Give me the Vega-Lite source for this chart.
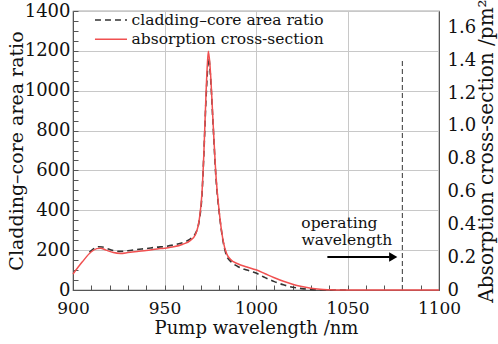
{
  "$schema": "https://vega.github.io/schema/vega-lite/v6.json",
  "width": 366,
  "height": 279,
  "autosize": {"type": "none"},
  "padding": {"left": 73, "top": 11, "right": 59, "bottom": 54},
  "background": "white",
  "config": {
    "font": "DejaVu Serif",
    "view": {"stroke": "#555555", "strokeWidth": 1.2},
    "axis": {
      "labelFont": "DejaVu Serif",
      "titleFont": "DejaVu Serif",
      "labelFontSize": 18,
      "titleFontSize": 18,
      "titleFontWeight": "normal",
      "labelColor": "#111111",
      "titleColor": "#111111",
      "domainColor": "#555555",
      "tickColor": "#555555",
      "gridColor": "#c8c8c8",
      "labelOverlap": false,
      "labelFlush": false
    }
  },
  "datasets": {
    "ratio": [
      {"w": 909, "v": 190}, {"w": 911, "v": 205}, {"w": 914, "v": 217}, {"w": 916, "v": 216},
      {"w": 918, "v": 210}, {"w": 922, "v": 198}, {"w": 926, "v": 194}, {"w": 930, "v": 197},
      {"w": 935, "v": 203}, {"w": 940, "v": 208}, {"w": 946, "v": 215}, {"w": 950, "v": 218},
      {"w": 955, "v": 226}, {"w": 960, "v": 238}, {"w": 964, "v": 255}, {"w": 967, "v": 285},
      {"w": 969, "v": 350}, {"w": 970.5, "v": 480}, {"w": 971.5, "v": 680}, {"w": 972.7, "v": 960},
      {"w": 973.5, "v": 1100}, {"w": 974.2, "v": 1165}, {"w": 975, "v": 1090}, {"w": 976.5, "v": 840},
      {"w": 978, "v": 580}, {"w": 980, "v": 380}, {"w": 982, "v": 245}, {"w": 984, "v": 170},
      {"w": 986, "v": 145}, {"w": 990, "v": 118}, {"w": 995, "v": 100}, {"w": 1000, "v": 85},
      {"w": 1005, "v": 62}, {"w": 1010, "v": 42}, {"w": 1015, "v": 26}, {"w": 1020, "v": 14},
      {"w": 1025, "v": 7}, {"w": 1030, "v": 3}, {"w": 1035, "v": 1}, {"w": 1040, "v": 0},
      {"w": 1050, "v": 0}
    ],
    "cross": [
      {"w": 900, "v": 0.097}, {"w": 905, "v": 0.170}, {"w": 910, "v": 0.233}, {"w": 913, "v": 0.252},
      {"w": 915, "v": 0.255}, {"w": 918, "v": 0.243}, {"w": 922, "v": 0.228}, {"w": 926, "v": 0.223},
      {"w": 930, "v": 0.228}, {"w": 935, "v": 0.235}, {"w": 940, "v": 0.241}, {"w": 946, "v": 0.250},
      {"w": 950, "v": 0.255}, {"w": 955, "v": 0.263}, {"w": 960, "v": 0.279}, {"w": 964, "v": 0.301},
      {"w": 967, "v": 0.340}, {"w": 969, "v": 0.430}, {"w": 970.5, "v": 0.595}, {"w": 971.5, "v": 0.830},
      {"w": 972.7, "v": 1.200}, {"w": 973.5, "v": 1.390}, {"w": 974, "v": 1.455}, {"w": 975, "v": 1.345},
      {"w": 976.5, "v": 1.030}, {"w": 978, "v": 0.715}, {"w": 980, "v": 0.467}, {"w": 982, "v": 0.303},
      {"w": 984, "v": 0.220}, {"w": 986, "v": 0.188}, {"w": 990, "v": 0.160}, {"w": 995, "v": 0.140},
      {"w": 1000, "v": 0.123}, {"w": 1005, "v": 0.099}, {"w": 1010, "v": 0.075}, {"w": 1015, "v": 0.053},
      {"w": 1020, "v": 0.035}, {"w": 1025, "v": 0.021}, {"w": 1030, "v": 0.010}, {"w": 1035, "v": 0.004},
      {"w": 1040, "v": 0.0015}, {"w": 1045, "v": 0}, {"w": 1100, "v": 0}
    ],
    "vline": [{"w": 1080, "v": 0, "v2": 1155}],
    "arrow": [{"w": 1039, "w2": 1073, "v": 166}],
    "head": [{"w": 1075, "v": 166}],
    "notes": [
      {"w": 1045.6, "v": 336, "t": "operating"},
      {"w": 1049.7, "v": 251, "t": "wavelength"}
    ],
    "legendDash": [{"w": 912, "w2": 929.5, "v": 1355}],
    "legendSolid": [{"w": 912, "w2": 929.5, "v": 1258}],
    "legendText": [
      {"w": 932, "v": 1355, "t": "cladding–core area ratio"},
      {"w": 932, "v": 1258, "t": "absorption cross-section"}
    ]
  },
  "encoding": {
    "x": {
      "field": "w",
      "type": "quantitative",
      "scale": {"domain": [900, 1100], "nice": false, "zero": false},
      "axis": {
        "title": "Pump wavelength /nm",
        "values": [900, 910, 920, 930, 940, 950, 960, 970, 980, 990, 1000, 1010, 1020, 1030, 1040, 1050, 1060, 1070, 1080, 1090, 1100],
        "labelExpr": "datum.value % 50 === 0 ? datum.label : ''",
        "format": "d",
        "labelFontSize": 17,
        "tickSize": -5,
        "labelPadding": 15,
        "titlePadding": 3,
        "gridOpacity": {"condition": {"test": "datum.value % 50 !== 0", "value": 0}, "value": 1}
      }
    }
  },
  "layer": [
    {
      "encoding": {
        "y": {
          "field": "v",
          "type": "quantitative",
          "scale": {"domain": [0, 1400], "nice": false},
          "axis": {
            "title": "Cladding–core area ratio",
            "titleFontSize": 19,
            "values": [0, 50, 100, 150, 200, 250, 300, 350, 400, 450, 500, 550, 600, 650, 700, 750, 800, 850, 900, 950, 1000, 1050, 1100, 1150, 1200, 1250, 1300, 1350, 1400],
            "labelExpr": "datum.value % 200 === 0 ? datum.label : ''",
            "format": "d",
            "tickSize": -5,
            "labelPadding": 8,
            "titlePadding": -2,
            "gridOpacity": {"condition": {"test": "datum.value % 200 !== 0", "value": 0}, "value": 1}
          }
        }
      },
      "layer": [
        {
          "data": {"name": "vline"},
          "mark": {"type": "rule", "color": "#555555", "strokeDash": [5, 3], "strokeWidth": 1.2},
          "encoding": {"y2": {"field": "v2"}}
        },
        {
          "data": {"name": "arrow"},
          "mark": {"type": "rule", "color": "#000000", "strokeWidth": 2},
          "encoding": {"x2": {"field": "w2"}}
        },
        {
          "data": {"name": "head"},
          "mark": {"type": "point", "shape": "triangle-right", "filled": true, "color": "#000000", "size": 90, "opacity": 1},
          "encoding": {}
        },
        {
          "data": {"name": "notes"},
          "mark": {"type": "text", "font": "DejaVu Serif", "fontSize": 15.5, "color": "#111111", "align": "center", "baseline": "middle"},
          "encoding": {"text": {"field": "t"}}
        },
        {
          "data": {"name": "legendDash"},
          "mark": {"type": "rule", "color": "#333333", "strokeDash": [6, 4], "strokeWidth": 1.6},
          "encoding": {"x2": {"field": "w2"}}
        },
        {
          "data": {"name": "legendSolid"},
          "mark": {"type": "rule", "color": "#f05050", "strokeWidth": 1.6},
          "encoding": {"x2": {"field": "w2"}}
        },
        {
          "data": {"name": "legendText"},
          "mark": {"type": "text", "font": "DejaVu Serif", "fontSize": 15.5, "color": "#111111", "align": "left", "baseline": "middle"},
          "encoding": {"text": {"field": "t"}}
        },
        {
          "data": {"name": "ratio"},
          "mark": {"type": "line", "color": "#333333", "strokeDash": [6, 4], "strokeWidth": 1.6, "interpolate": "monotone"},
          "encoding": {}
        }
      ]
    },
    {
      "data": {"name": "cross"},
      "mark": {"type": "line", "color": "#f05050", "strokeWidth": 1.5, "interpolate": "monotone"},
      "encoding": {
        "y": {
          "field": "v",
          "type": "quantitative",
          "scale": {"domain": [0, 1.7], "nice": false},
          "axis": {
            "orient": "right",
            "title": "Absorption cross-section /pm²",
            "titleFontSize": 20,
            "values": [0, 0.2, 0.4, 0.6, 0.8, 1.0, 1.2, 1.4, 1.6],
            "labelExpr": "datum.value === 0 ? '0' : format(datum.value, '.1f')",
            "ticks": false,
            "grid": false,
            "labelPadding": 8,
            "titleAngle": -90,
            "titleBaseline": "top",
            "titlePadding": 1
          }
        }
      }
    }
  ],
  "resolve": {"scale": {"y": "independent"}}
}
